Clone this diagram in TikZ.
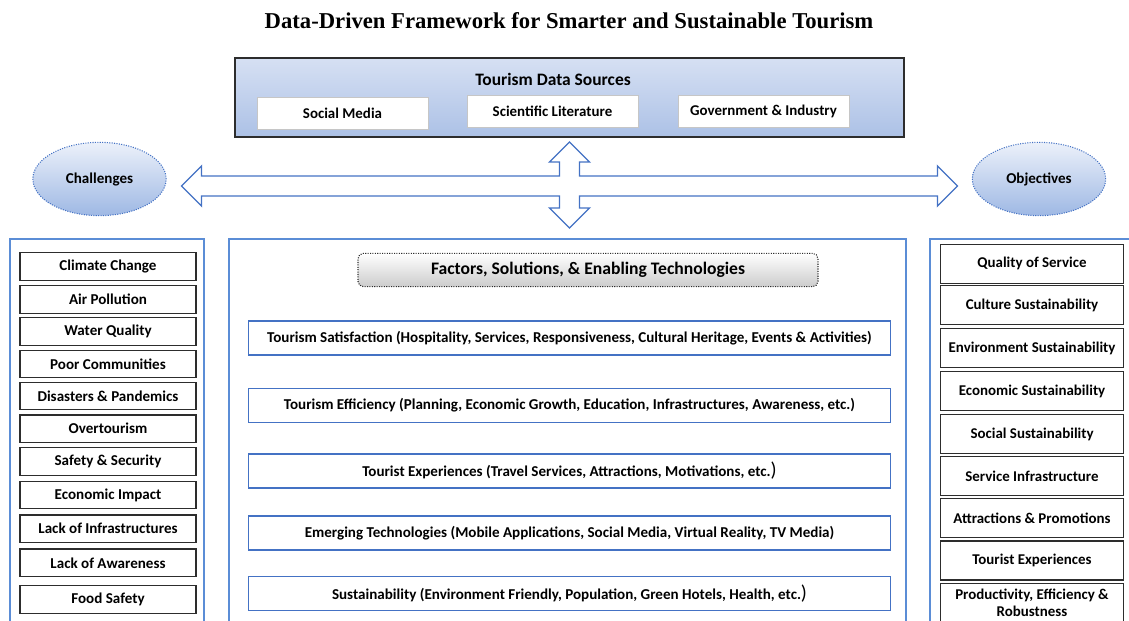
\documentclass[tikz,border=0pt]{standalone}
\usepackage{fontspec}
\setmainfont{Carlito}
\newfontfamily\titlefont{Liberation Serif}
\usetikzlibrary{shapes.geometric}
\definecolor{fwblue}{RGB}{68,114,196}
\definecolor{fwpanel}{RGB}{91,141,214}
\definecolor{fwsky}{RGB}{158,184,228}
\definecolor{fwpale}{RGB}{236,241,250}
\definecolor{fwtop}{RGB}{214,224,243}
\definecolor{fwbottom}{RGB}{172,193,230}
\definecolor{fwdark}{RGB}{45,45,45}
\begin{document}
\begin{tikzpicture}[x=0.75pt, y=-0.75pt,
  panel/.style={draw=fwpanel, line width=0.8pt},
  srcbox/.style={draw=gray!45, fill=white, font=\bfseries\fontsize{11.2}{13}\selectfont,
    minimum width=128pt, minimum height=24pt},
  cloud/.style={ellipse, draw=fwblue, densely dotted, line width=0.8pt,
    top color=fwpale, bottom color=fwsky, font=\bfseries\fontsize{11.3}{13}\selectfont,
    minimum width=100pt, minimum height=55pt},
  issuebox/.style={draw=fwdark, line width=0.9pt, fill=white, inner sep=1pt,
    font=\bfseries\fontsize{11.3}{13}\selectfont, minimum width=132pt, minimum height=20.6pt},
  goalbox/.style={draw=fwdark, line width=0.9pt, fill=white, align=center, inner sep=1pt,
    font=\bfseries\fontsize{11.2}{12.5}\selectfont, minimum width=137pt, minimum height=29.2pt},
  factorbox/.style={draw=fwblue, line width=1pt, fill=white, inner sep=1pt,
    font=\bfseries\fontsize{11.3}{13}\selectfont, minimum width=481.5pt, minimum height=25.5pt},
  bigarrow/.style={draw=fwblue, line width=1pt, fill=white, line join=miter}]
\clip (0,0) rectangle (1129,621);
% Title
\node[font=\titlefont\bfseries\fontsize{17}{20}\selectfont] (title) at (569,21)
  {Data-Driven Framework for Smarter and Sustainable Tourism};
% Data sources
\node[draw=fwdark, line width=0.9pt, top color=fwtop, bottom color=fwbottom,
      minimum width=501.75pt, minimum height=59.25pt] (sources) at (569.5,97.5) {};
\node[font=\bfseries\fontsize{13.1}{15}\selectfont] (srctitle) at (553,79) {Tourism Data Sources};
\node[srcbox] (social) at (342.5,113) {Social Media};
\node[srcbox] (science) at (552.5,111) {Scientific Literature};
\node[srcbox] (govt) at (763.5,111) {Government \& Industry};
% Ellipses
\node[cloud] (chal) at (99.5,179) {Challenges};
\node[cloud] (obj) at (1039,179) {Objectives};
% Four-way arrow
\coordinate (hub) at (569.5,186);
\draw[bigarrow, shift={(hub)}]
  (-388,0) -- (-368,-20) -- (-368,-10) -- (-10,-10) -- (-10,-24) -- (-20,-24)
  -- (0,-44) -- (20,-24) -- (10,-24) -- (10,-10) -- (368,-10) -- (368,-20)
  -- (388,0) -- (368,20) -- (368,10) -- (10,10) -- (10,22) -- (20,22)
  -- (0,42) -- (-20,22) -- (-10,22) -- (-10,10) -- (-368,10) -- (-368,20) -- cycle;
% Panels
\draw[panel] (10,239) rectangle (204,640);
\draw[panel] (229,239) rectangle (906,640);
\draw[panel] (930,239) rectangle (1150,640);
% Challenges
\node[issuebox] (c1) at (108,266.5) {Climate Change};
\node[issuebox] (c2) at (108,299.5) {Air Pollution};
\node[issuebox] (c3) at (108,331.5) {Water Quality};
\node[issuebox] (c4) at (108,364) {Poor Communities};
\node[issuebox] (c5) at (108,396) {Disasters \& Pandemics};
\node[issuebox] (c6) at (108,428.7) {Overtourism};
\node[issuebox] (c7) at (108,461.5) {Safety \& Security};
\node[issuebox] (c8) at (108,495) {Economic Impact};
\node[issuebox] (c9) at (108,528.7) {Lack of Infrastructures};
\node[issuebox] (c10) at (108,562.8) {Lack of Awareness};
\node[issuebox] (c11) at (108,599.5) {Food Safety};
% Factors
\node[draw=fwdark, densely dotted, line width=0.8pt, rounded corners=4pt,
      top color=white, bottom color=gray!40, minimum width=345pt, minimum height=25pt,
      font=\bfseries\fontsize{13.2}{15}\selectfont] (factors) at (588,270)
  {Factors, Solutions, \& Enabling Technologies};
\node[factorbox] (f1) at (569.5,338)
  {Tourism Satisfaction (Hospitality, Services, Responsiveness, Cultural Heritage, Events \& Activities)};
\node[factorbox] (f2) at (569.5,405.5)
  {Tourism Efficiency (Planning, Economic Growth, Education, Infrastructures, Awareness, etc.)};
\node[factorbox] (f3) at (569.5,471)
  {Tourist Experiences (Travel Services, Attractions, Motivations, etc.{\mdseries\fontsize{15}{15}\selectfont)}};
\node[factorbox] (f4) at (569.5,533)
  {Emerging Technologies (Mobile Applications, Social Media, Virtual Reality, TV Media)};
\node[factorbox] (f5) at (569.5,593.7)
  {Sustainability (Environment Friendly, Population, Green Hotels, Health, etc.{\mdseries\fontsize{15}{15}\selectfont)}};
% Objectives
\node[goalbox] (o1) at (1032,263.8) {Quality of Service};
\node[goalbox] (o2) at (1032,305.3) {Culture Sustainability};
\node[goalbox] (o3) at (1032,348.3) {Environment Sustainability};
\node[goalbox] (o4) at (1032,391.2) {Economic Sustainability};
\node[goalbox] (o5) at (1032,434.2) {Social Sustainability};
\node[goalbox] (o6) at (1032,476.3) {Service Infrastructure};
\node[goalbox] (o7) at (1032,518.3) {Attractions \& Promotions};
\node[goalbox] (o8) at (1032,560.5) {Tourist Experiences};
\node[goalbox] (o9) at (1032,603) {Productivity, Efficiency \&\\Robustness};
\end{tikzpicture}
\end{document}
